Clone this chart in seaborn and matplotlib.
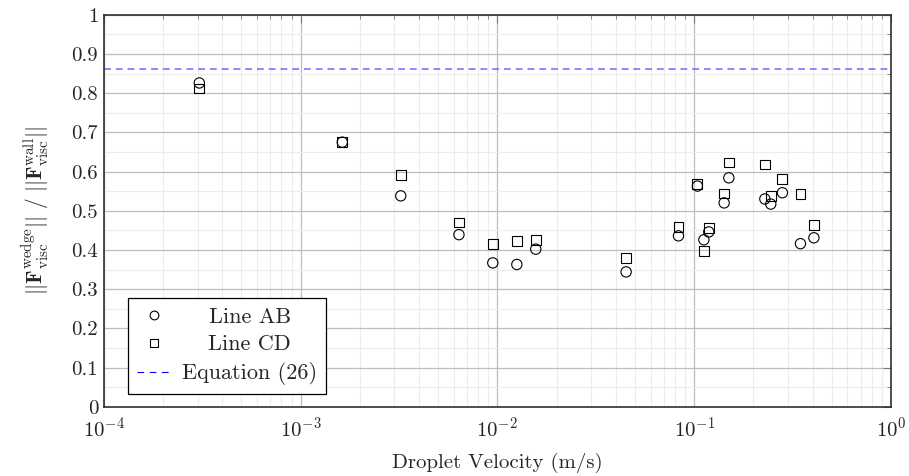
import numpy as np
import pandas as pd
import matplotlib
matplotlib.use("Agg")
import matplotlib.pyplot as plt
import seaborn as sns
from matplotlib.lines import Line2D
from matplotlib.ticker import LogLocator, MultipleLocator, FuncFormatter

# ---- data ----
velocity = [3.06e-4, 1.63e-3, 3.23e-3, 6.38e-3, 9.48e-3, 0.01256, 0.01567,
            0.0451, 0.0832, 0.1038, 0.112, 0.1186, 0.142, 0.150, 0.2286,
            0.245, 0.2807, 0.3467, 0.4057]
line_ab = [0.826, 0.675, 0.538, 0.439, 0.367, 0.363, 0.402,
           0.344, 0.436, 0.563, 0.426, 0.446, 0.520, 0.584, 0.530,
           0.517, 0.546, 0.416, 0.431]
line_cd = [0.812, 0.675, 0.591, 0.470, 0.416, 0.423, 0.425,
           0.379, 0.458, 0.569, 0.397, 0.455, 0.544, 0.623, 0.618,
           0.538, 0.580, 0.543, 0.464]
equation_26 = 0.862
x_limits = [1e-4, 1.0]
y_ticks = [0, 0.1, 0.2, 0.3, 0.4, 0.5, 0.6, 0.7, 0.8, 0.9, 1.0]
series_labels = ["Line AB", "Line CD", "Equation (26)"]

FS = 15.0
FS_LEG = 16.0

sns.set_style("white")
plt.rcParams["font.family"] = ["cmr10", "DejaVu Serif"]
plt.rcParams["mathtext.fontset"] = "cm"
plt.rcParams["axes.formatter.use_mathtext"] = True
plt.rcParams["axes.unicode_minus"] = False

fig = plt.figure(figsize=(9.09, 4.76), dpi=100)
ax = fig.add_axes([0.1141, 0.1455, 0.9802 - 0.1141, 0.969 - 0.1455])

df = pd.DataFrame({"v": velocity, "ab": line_ab, "cd": line_cd})

ax.axhline(equation_26, color=(0.42, 0.42, 1.0), lw=1.1, dashes=(4.5, 3.2), zorder=2)

sns.scatterplot(data=df, x="v", y="ab", ax=ax, marker="o", s=55,
                facecolor="none", edgecolor="black", linewidth=0.8, zorder=3)
sns.scatterplot(data=df, x="v", y="cd", ax=ax, marker="s", s=50,
                facecolor="none", edgecolor="black", linewidth=0.8, zorder=3)

ax.set_xscale("log")
ax.set_xlim(*x_limits)
ax.set_ylim(0, 1)
ax.set_yticks(y_ticks)
ax.yaxis.set_major_formatter(FuncFormatter(lambda v, p: f"{v:g}"))
ax.yaxis.set_minor_locator(MultipleLocator(0.05))
ax.xaxis.set_major_locator(LogLocator(base=10, numticks=10))
ax.xaxis.set_minor_locator(LogLocator(base=10, subs=np.arange(2, 10), numticks=20))

ax.grid(True, which="major", color="#bdbdbd", lw=0.9)
ax.grid(True, which="minor", color="#ececec", lw=0.8)
ax.set_axisbelow(True)

for s in ax.spines.values():
    s.set_color("#303030")
    s.set_linewidth(1.2)

ax.tick_params(which="both", direction="in", top=True, right=True,
               color="#7a7a7a", labelsize=FS)
ax.tick_params(which="major", length=5.5, width=0.8)
ax.tick_params(which="minor", length=3.2, width=0.6)
ax.tick_params(axis="x", pad=7)
ax.tick_params(axis="y", pad=4)

ax.set_xlabel("Droplet Velocity (m/s)", fontsize=FS, labelpad=9)
ax.set_ylabel(r"$||\mathbf{F}^{\rm wedge}_{\rm visc}||\ /\ ||\mathbf{F}^{\rm wall}_{\rm visc}||$",
              fontsize=15.5, labelpad=15)

handles = [
    Line2D([], [], ls="none", marker="o", markersize=6.3, markerfacecolor="none",
           markeredgecolor="black", markeredgewidth=0.8),
    Line2D([], [], ls="none", marker="s", markersize=6.0, markerfacecolor="none",
           markeredgecolor="black", markeredgewidth=0.8),
    Line2D([], [], color="blue", lw=0.8, dashes=(6, 5)),
]
leg = ax.legend(handles, series_labels, loc="lower left", bbox_to_anchor=(0.0305, 0.032),
                frameon=True, fancybox=False, framealpha=1, edgecolor="black",
                fontsize=FS_LEG, handlelength=1.6, handletextpad=0.45,
                borderpad=0.4, labelspacing=0.36, borderaxespad=0)
leg.get_frame().set_linewidth(0.9)

# centre the legend texts within their column (as in the reference)
fig.canvas.draw()
r = fig.canvas.get_renderer()
widths = [t.get_window_extent(r).width for t in leg.get_texts()]
wmax = max(widths)
for t, w in zip(leg.get_texts(), widths):
    t.set_position(((wmax - w) / 2.0, 0))

fig.savefig("out.png", dpi=100)
